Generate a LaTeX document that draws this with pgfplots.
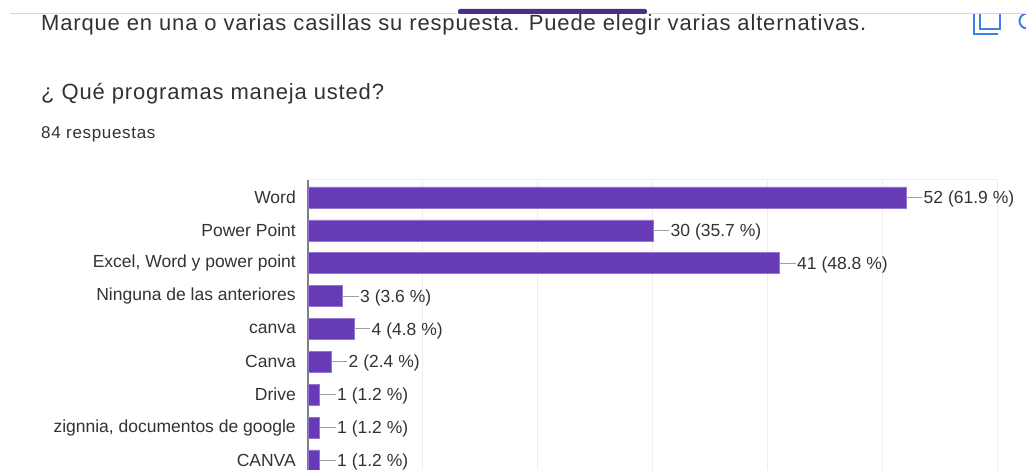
\documentclass[border=0pt]{standalone}
\usepackage{pgfplots}
\pgfplotsset{compat=1.18}
\usepackage{fontspec}
\setmainfont{Liberation Sans}
\newfontfamily\headfont[LetterSpace=3.8]{Liberation Sans}
\newfontfamily\subfont[LetterSpace=4]{Liberation Sans}
\definecolor{barpurple}{HTML}{673AB7}
\definecolor{labeltext}{HTML}{333333}
\definecolor{headtext}{HTML}{303336}
\definecolor{gridc}{HTML}{EEEEEE}
\definecolor{iconblue}{HTML}{3B82E8}
\begin{document}
\begin{tikzpicture}[x=1pt,y=1pt]
\useasboundingbox (0,0) rectangle (1026,470);
\fill[white] (0,0) rectangle (1026,470);
% page furniture
\node[anchor=base west,inner sep=0,text=headtext,font=\headfont\fontsize{22}{24}\selectfont] at (41,439) {Marque en una o varias casillas su respuesta. Puede elegir varias alternativas.};
\draw[iconblue,line width=2.2pt] (974,456) -- (974,436) -- (998,436);
\draw[iconblue,line width=2.2pt] (980,456) -- (980,441) -- (1000,441) -- (1000,456);
\draw[iconblue,line width=2pt] (1027,449) circle (7.5);
\fill[white] (0,456) rectangle (1026,470);
\draw[draw=gridc!80!gray,line width=1pt] (10,456) -- (1026,456);
\fill[barpurple!75!black,rounded corners=2pt] (458,456) -- (458,461) -- (647,461) -- (647,456) -- cycle;
\node[anchor=base west,inner sep=0,text=headtext,font=\headfont\fontsize{22}{24}\selectfont] at (41,370) {¿ Qué programas maneja usted?};
\node[anchor=base west,inner sep=0,text=headtext,font=\subfont\fontsize{17}{18}\selectfont] at (41,331.5) {84 respuestas};
\begin{axis}[
  at={(267.8,0)},anchor=south west,
  scale only axis,width=690pt,height=290pt,
  xmin=0,xmax=60,
  ymin=-0.532,ymax=8.289,y dir=reverse,
  xtick={0,10,...,60},xticklabels={},
  ytick={0,1,...,8},
  yticklabels={Word,Power Point,{Excel, Word y power point},Ninguna de las anteriores,canva,Canva,Drive,{zignnia, documentos de google},CANVA},
  major tick length=0pt,
  tick label style={font=\fontsize{17.5}{20}\selectfont,text=labeltext},
  yticklabel style={inner xsep=0pt,xshift=-12pt},
  xmajorgrids,grid style={gridc,line width=1pt},
  separate axis lines,
  x axis line style={gridc,line width=1pt,-},
  y axis line style={gray,line width=1.5pt,-},
  axis line style={-},
  axis x line*=top,axis y line*=left,
  axis on top=false,
]
\addplot[xbar,bar width=21pt,fill=barpurple,draw=barpurple!70!white,line width=.5pt,
  error bars/x dir=plus,error bars/x fixed=1.42,error bars/error mark=none,
  error bars/error bar style={gray!75,line width=1pt},
  point meta=explicit symbolic,
  nodes near coords,
  nodes near coords style={anchor=west,inner xsep=0pt,xshift=17.5pt,yshift=-1.5pt,font=\fontsize{17.5}{20}\selectfont,text=labeltext},
] coordinates {
  (52,0) [52 (61.9 \%)]
  (30,1) [30 (35.7 \%)]
  (41,2) [41 (48.8 \%)]
  (3,3) [3 (3.6 \%)]
  (4,4) [4 (4.8 \%)]
  (2,5) [2 (2.4 \%)]
  (1,6) [1 (1.2 \%)]
  (1,7) [1 (1.2 \%)]
  (1,8) [1 (1.2 \%)]
};
\end{axis}
\end{tikzpicture}
\end{document}
